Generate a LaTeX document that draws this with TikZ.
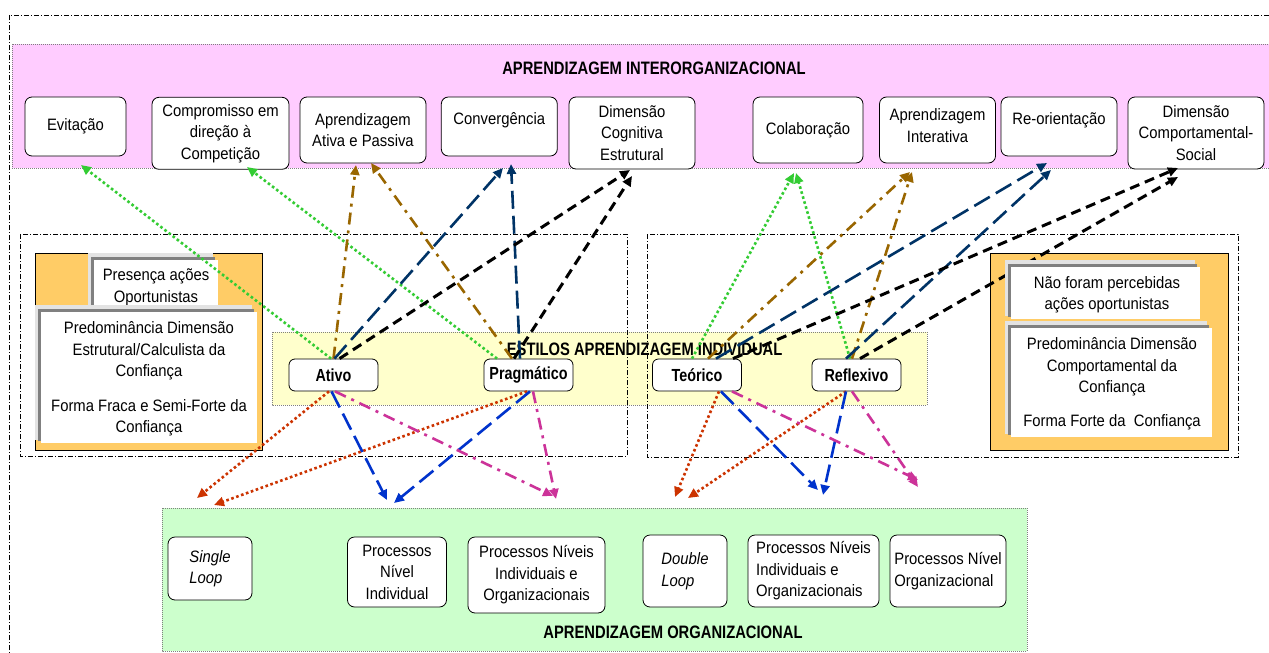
\documentclass[tikz,border=0pt]{standalone}
\usepackage{fontspec}
\setmainfont{Liberation Sans}[FakeStretch=0.9]
\newfontfamily\titlefam{Liberation Sans}[FakeStretch=0.82]
\usetikzlibrary{arrows.meta}
\definecolor{pinkbg}{HTML}{FFCCFF}
\definecolor{yellowbg}{HTML}{FFFFCC}
\definecolor{greenbg}{HTML}{CCFFCC}
\definecolor{orangebg}{HTML}{FFCC66}
\definecolor{shlight}{HTML}{E3E3E3}
\definecolor{shdark}{HTML}{808080}
\definecolor{cgreen}{HTML}{33CC33}
\definecolor{cbrown}{HTML}{996600}
\definecolor{cnavy}{HTML}{003366}
\definecolor{corange}{HTML}{CC3300}
\definecolor{cblue}{HTML}{0033CC}
\definecolor{cmagenta}{HTML}{CC3399}
\newcommand\layeredbox[4]{%
  \fill[shlight] (#1,#2) rectangle (#3,#4);
  \fill[shdark] (#1+3,#2+4) rectangle (#3+2,#4+1);
  \fill[white] (#1+6,#2+7) rectangle (#3+5,#4+3);}
\tikzset{
  bodyfont/.style={font=\fontsize{16.5}{21.5}\selectfont},
  itfont/.style={font=\fontsize{16.5}{21.5}\selectfont\itshape},
  rbox/.style={draw=black, line width=0.8pt, rounded corners=7pt, fill=white, align=center, inner sep=2pt, bodyfont},
  stylebox/.style={rbox, minimum width=89pt, minimum height=32pt, rounded corners=6pt, font=\titlefam\bfseries\fontsize{17.5}{21}\selectfont},
  bandtitle/.style={font=\titlefam\bfseries\fontsize{18}{22}\selectfont, inner sep=0pt},
  plaintext/.style={bodyfont, align=center, inner sep=0pt},
  band/.style={draw=gray, line width=0.8pt, dash pattern=on 1pt off 1pt},
  frame/.style={draw=black, line width=0.7pt, dash pattern=on 5pt off 2pt on 1pt off 2pt},
  conn/.style={line width=2.6pt, -{Triangle[length=10pt,width=9pt]}},
  dotline/.style={conn, dash pattern=on 2.6pt off 2.6pt},
  dashdotline/.style={conn, dash pattern=on 12pt off 6pt on 3pt off 6pt},
  longdash/.style={conn, dash pattern=on 18pt off 7pt},
  shortdash/.style={conn, line width=3pt, dash pattern=on 10pt off 6pt},
}
\begin{document}
\begin{tikzpicture}[x=1pt,y=-1pt]
\useasboundingbox (0,0) rectangle (1269,653);
\fill[white] (0,0) rectangle (1269,653);
% outer frame
\draw[frame] (9,680) -- (9,15) -- (1300,15);
% interorganizational band
\filldraw[fill=pinkbg, band] (12,44) rectangle (1300,168);
\node[bandtitle] (tinter) at (654,68) {APRENDIZAGEM INTERORGANIZACIONAL};
% individual band and frames
\filldraw[fill=yellowbg, band] (272,332) rectangle (927,405);
\draw[frame] (20,234) rectangle (627,456);
\draw[frame] (647,234) rectangle (1238,457);
\node[bandtitle] (tind) at (644.6,349) {ESTILOS APRENDIZAGEM INDIVIDUAL};
% organizational band
\filldraw[fill=greenbg, band] (162,508) rectangle (1027,651);
\node[bandtitle] (torg) at (673,632) {APRENDIZAGEM ORGANIZACIONAL};
% left orange box
\filldraw[fill=orangebg, draw=black, line width=0.8pt] (35,253) rectangle (262,450);
\layeredbox{88}{253}{213}{305}
\node[plaintext] (presenca) at (156,287.5) {Presença ações\\Oportunistas};
\layeredbox{35}{305}{252}{440}
\node[plaintext] (predest) at (149,379) {Predominância Dimensão\\Estrutural/Calculista da\\Confiança\\[13pt]Forma Fraca e Semi-Forte da\\Confiança};
% right orange box
\filldraw[fill=orangebg, draw=black, line width=0.8pt] (990,253) rectangle (1228,450);
% top boxes
\node[rbox, minimum width=101pt, minimum height=59pt] (evit) at (75.5,126.5) {Evitação};
\node[rbox, minimum width=137pt, minimum height=72pt] (comp) at (220.5,133.3) {Compromisso em\\direção à\\Competição};
\node[rbox, minimum width=126pt, minimum height=66pt] (aativa) at (363,130) {Aprendizagem\\Ativa e Passiva};
\node[rbox, minimum width=116pt, minimum height=59pt, text depth=16.5pt] (conv) at (499.3,126.5) {Convergência};
\node[rbox, minimum width=126pt, minimum height=72pt] (dimcog) at (632,133) {Dimensão\\Cognitiva\\Estrutural};
\node[rbox, minimum width=110pt, minimum height=66pt] (colab) at (808,130) {Colaboração};
\node[rbox, minimum width=116pt, minimum height=66pt, text depth=9pt] (ainter) at (937.5,130) {Aprendizagem\\Interativa};
\node[rbox, minimum width=116pt, minimum height=59pt, text depth=16.5pt] (reor) at (1059,126.5) {Re-orientação};
\node[rbox, minimum width=136pt, minimum height=72pt] (dimcomp) at (1196,133) {Dimensão\\Comportamental-\\Social};
% style nodes
\node[stylebox] (ativo) at (333.5,375) {Ativo};
\node[stylebox] (prag) at (528.5,375) {Pragmático};
\node[stylebox] (teor) at (697,375) {Teórico};
\node[stylebox] (refl) at (856.5,375) {Reflexivo};
% bottom boxes
\node[rbox, itfont, align=left, minimum width=84pt, minimum height=63pt] (single) at (210,568.5) {Single\\Loop};
\node[rbox, minimum width=99pt, minimum height=70pt] (pni) at (397,572) {Processos\\Nível\\Individual};
\node[rbox, minimum width=137pt, minimum height=76pt] (pnioa) at (536.5,575) {Processos Níveis\\Individuais e\\Organizacionais};
\node[rbox, itfont, align=left, minimum width=84pt, minimum height=72pt] (double) at (685,571) {Double\\Loop};
\node[rbox, align=left, minimum width=131pt, minimum height=72pt] (pniob) at (813.5,571) {Processos Níveis\\Individuais e\\Organizacionais};
\node[rbox, align=left, minimum width=116pt, minimum height=72pt] (pno) at (948,571) {Processos Nível\\Organizacional};
% arrow tips
\coordinate (tevit) at (81,165);
\coordinate (tcomp) at (247,167);
\coordinate (taa1) at (356,165);
\coordinate (taa2) at (371,163);
\coordinate (tconv1) at (503,168);
\coordinate (tconv2) at (511,164);
\coordinate (tdc1) at (630,170);
\coordinate (tdc2) at (632,176);
\coordinate (tcol1) at (794,173);
\coordinate (tcol2) at (796,173);
\coordinate (tai1) at (910,172);
\coordinate (tai2) at (912,172);
\coordinate (tre1) at (1047,163);
\coordinate (tre2) at (1051,170);
\coordinate (tdcs1) at (1178,168);
\coordinate (tdcs2) at (1178,177);
\coordinate (tsl1) at (197,498);
\coordinate (tsl2) at (214,505);
\coordinate (tpni1) at (387,500);
\coordinate (tpni2) at (394,503);
\coordinate (tpnio1) at (553,496);
\coordinate (tpnio2) at (556,499);
\coordinate (tdl1) at (675,497);
\coordinate (tdl2) at (688,498);
\coordinate (tpniob1) at (818,490);
\coordinate (tpniob2) at (823,495);
\coordinate (tmag1) at (918,480);
\coordinate (tmag2) at (918,487);
% upward connectors
\draw[dotline, cgreen] ([xshift=-2.5pt]ativo.north) -- (tevit);
\draw[dotline, cgreen] ([xshift=-31.5pt]prag.north) -- (tcomp);
\draw[dashdotline, cbrown] (ativo.north) -- (taa1);
\draw[dashdotline, cbrown] ([xshift=-16.5pt]prag.north) -- (taa2);
\draw[longdash, cnavy] ([xshift=1pt]ativo.north) -- (tconv1);
\draw[longdash, cnavy] ([xshift=-8.5pt]prag.north) -- (tconv2);
\draw[shortdash, black] ([xshift=6pt]ativo.north) -- (tdc1);
\draw[shortdash, black] ([xshift=-14.5pt]prag.north) -- (tdc2);
\draw[dotline, cgreen] ([xshift=-5pt]teor.north) -- (tcol1);
\draw[dotline, cgreen] ([xshift=-6.5pt]refl.north) -- (tcol2);
\draw[dashdotline, cbrown] ([xshift=11pt]teor.north) -- (tai1);
\draw[dashdotline, cbrown] ([xshift=-4.5pt]refl.north) -- (tai2);
\draw[longdash, cnavy] ([xshift=19pt]teor.north) -- (tre1);
\draw[longdash, cnavy] ([xshift=-10.5pt]refl.north) -- (tre2);
\draw[shortdash, black] ([xshift=36pt]teor.north) -- (tdcs1);
\draw[shortdash, black] ([xshift=3.5pt]refl.north) -- (tdcs2);
% downward connectors
\draw[dotline, corange] ([xshift=-4.5pt]ativo.south) -- (tsl1);
\draw[dotline, corange] ([xshift=-1.5pt]prag.south) -- (tsl2);
\draw[longdash, cblue] ([xshift=-2pt]ativo.south) -- (tpni1);
\draw[longdash, cblue] ([xshift=1.5pt]prag.south) -- (tpni2);
\draw[dashdotline, cmagenta] ([xshift=1.5pt]ativo.south) -- (tpnio1);
\draw[dashdotline, cmagenta] ([xshift=4.5pt]prag.south) -- (tpnio2);
\draw[dotline, corange] ([xshift=22pt]teor.south) -- (tdl1);
\draw[dotline, corange] ([xshift=-10.5pt]refl.south) -- (tdl2);
\draw[longdash, cblue] ([xshift=24pt]teor.south) -- (tpniob1);
\draw[longdash, cblue] ([xshift=-10.5pt]refl.south) -- (tpniob2);
\draw[dashdotline, cmagenta] ([xshift=35pt]teor.south) -- (tmag1);
\draw[dashdotline, cmagenta] ([xshift=-4.5pt]refl.south) -- (tmag2);
% right inner boxes (over the connectors)
\layeredbox{1005}{260}{1195}{316}
\node[plaintext] (naoper) at (1107,295) {Não foram percebidas\\ações oportunistas};
\layeredbox{1005}{321}{1207}{434}
\node[plaintext] (predcomp) at (1112,383.5) {Predominância Dimensão\\Comportamental da\\Confiança\\[12pt]Forma Forte da~~Confiança};
\end{tikzpicture}
\end{document}
